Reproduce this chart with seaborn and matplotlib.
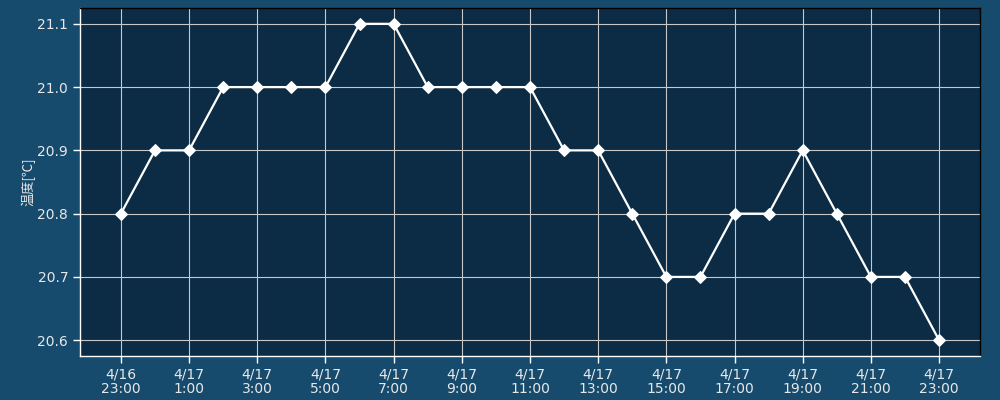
import matplotlib
matplotlib.use("Agg")
import matplotlib.pyplot as plt
import seaborn as sns
import pandas as pd

times = ["4/16\n23:00", "4/17\n0:00", "4/17\n1:00", "4/17\n2:00", "4/17\n3:00", "4/17\n4:00",
         "4/17\n5:00", "4/17\n6:00", "4/17\n7:00", "4/17\n8:00", "4/17\n9:00", "4/17\n10:00",
         "4/17\n11:00", "4/17\n12:00", "4/17\n13:00", "4/17\n14:00", "4/17\n15:00", "4/17\n16:00",
         "4/17\n17:00", "4/17\n18:00", "4/17\n19:00", "4/17\n20:00", "4/17\n21:00", "4/17\n22:00",
         "4/17\n23:00"]
temps = [20.8, 20.9, 20.9, 21.0, 21.0, 21.0, 21.0, 21.1, 21.1, 21.0, 21.0, 21.0, 21.0,
         20.9, 20.9, 20.8, 20.7, 20.7, 20.8, 20.8, 20.9, 20.8, 20.7, 20.7, 20.6]
yticks = [20.6, 20.7, 20.8, 20.9, 21.0, 21.1]

df = pd.DataFrame({"idx": range(len(temps)), "temp": temps})

sns.set_theme(style="white")
plt.rcParams['font.family'] = ['DejaVu Sans', 'Noto Sans CJK JP']

fig = plt.figure(figsize=(10, 4), dpi=100, facecolor="#174b6d")
ax = fig.add_axes([0.08, 0.11, 0.90, 0.87])
ax.set_facecolor("#0b2c44")

sns.lineplot(data=df, x="idx", y="temp", ax=ax, color="white", linewidth=1.6,
             marker="D", markersize=6.5, markeredgecolor="white", markerfacecolor="white")

ax.set_xticks(range(0, len(temps), 2))
ax.set_xticklabels(times[::2], fontsize=10, color="#e8e8e8", linespacing=1.0)
ax.set_yticks(yticks)
ax.set_yticklabels([f"{v:.1f}" for v in yticks], fontsize=10, color="#e8e8e8")
ax.margins(x=0.05, y=0.05)
ax.grid(True, color="#c8c8c8", linewidth=0.8)
ax.set_axisbelow(True)
ax.tick_params(axis="both", colors="white", length=5, width=1, labelcolor="#e8e8e8", direction="out",
               bottom=True, left=True)
ax.set_xlabel("")
ax.set_ylabel("温度[℃]", fontsize=9.5, color="#e8e8e8", labelpad=1,
              family=['Noto Sans CJK JP', 'DejaVu Sans'])
for s in ["top", "right"]:
    ax.spines[s].set_color("black")
for s in ["bottom", "left"]:
    ax.spines[s].set_color("white")
for s in ax.spines.values():
    s.set_linewidth(1)

fig.savefig("out.png", dpi=100, facecolor=fig.get_facecolor())
